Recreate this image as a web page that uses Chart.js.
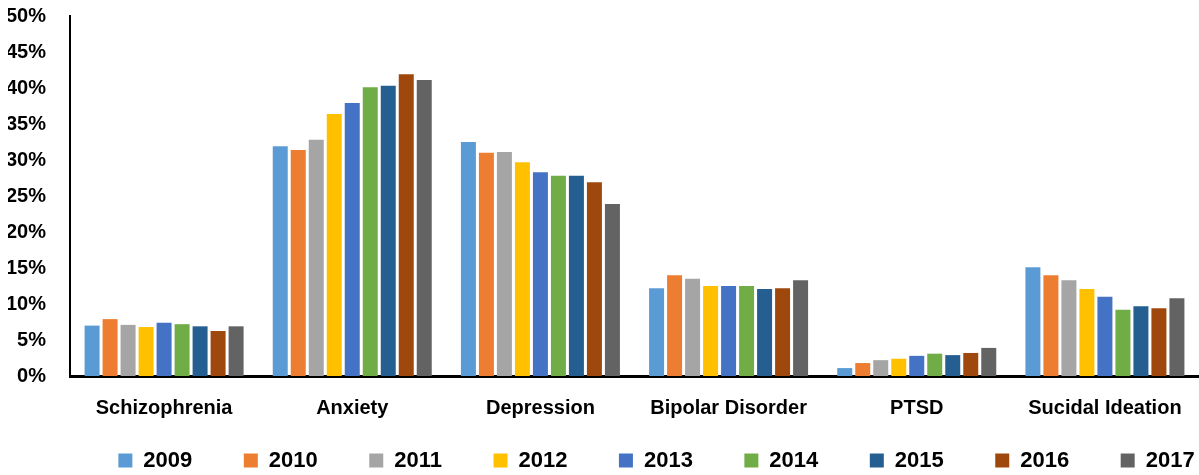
<!DOCTYPE html>
<html>
<head>
<meta charset="utf-8">
<script src="https://cdn.jsdelivr.net/npm/chart.js@4"></script>
<style>
  html, body { margin: 0; padding: 0; background: #fff; }
  #wrap { width: 1199px; height: 475px; position: relative; }
</style>
</head>
<body>
<div id="wrap"><canvas id="barChart"></canvas></div>
<script>
// Categorias y valores (en %)
var categories = ['Schizophrenia', 'Anxiety', 'Depression', 'Bipolar Disorder', 'PTSD', 'Sucidal Ideation'];
var years = ['2009', '2010', '2011', '2012', '2013', '2014', '2015', '2016', '2017'];
var yearColors = ['#5B9BD5', '#ED7D31', '#A5A5A5', '#FFC000', '#4472C4', '#70AD47', '#255E91', '#9E480E', '#636363'];

var v2009 = [7.0, 31.9, 32.5, 12.2, 1.1, 15.1];
var v2010 = [7.9, 31.4, 31.0, 14.0, 1.8, 14.0];
var v2011 = [7.1, 32.8, 31.1, 13.5, 2.2, 13.3];
var v2012 = [6.8, 36.4, 29.7, 12.5, 2.4, 12.1];
var v2013 = [7.4, 37.9, 28.3, 12.5, 2.8, 11.0];
var v2014 = [7.2, 40.1, 27.8, 12.5, 3.1, 9.2];
var v2015 = [6.9, 40.3, 27.8, 12.1, 2.9, 9.7];
var v2016 = [6.25, 41.9, 26.9, 12.2, 3.2, 9.4];
var v2017 = [6.9, 41.1, 23.9, 13.3, 3.9, 10.8];
var seriesValues = [v2009, v2010, v2011, v2012, v2013, v2014, v2015, v2016, v2017];

var yTicks = [0, 5, 10, 15, 20, 25, 30, 35, 40, 45, 50];

var boldFont = { family: 'Liberation Sans', weight: 'bold', size: 20 };

var datasets = years.map(function (y, i) {
    return {
        label: y,
        data: seriesValues[i],
        backgroundColor: yearColors[i],
        borderWidth: 0,
        barPercentage: 0.833,
        categoryPercentage: 0.861
    };
});

// Mueve la leyenda a su sitio (el padding grande de la leyenda la deja muy abajo)
var legendShift = {
    id: 'legendShift',
    afterLayout: function (chart) {
        var lg = chart.legend;
        lg.left += 53;
        lg.right += 53;
        lg.top -= 22;
    }
};

var ctx = document.getElementById('barChart').getContext('2d');
var myChart = new Chart(ctx, {
    type: 'bar',
    data: { labels: categories, datasets: datasets },
    plugins: [legendShift],
    options: {
        responsive: true,
        maintainAspectRatio: false,
        animation: false,
        layout: { padding: { left: 8, right: 0, top: 16, bottom: 0 } },
        scales: {
            x: {
                grid: { display: false, drawTicks: false },
                border: { display: true, color: '#000', width: 3 },
                ticks: { color: '#000', font: boldFont, padding: 20, maxRotation: 0, autoSkip: false },
                afterFit: function (axis) {
                    axis.paddingLeft = 0;
                    axis.paddingRight = 0;
                    axis.height = 44;
                }
            },
            y: {
                min: 0,
                max: 50,
                afterBuildTicks: function (axis) {
                    axis.ticks = yTicks.map(function (v) { return { value: v }; });
                },
                afterFit: function (axis) {
                    axis.paddingTop = 0;
                    axis.paddingBottom = 0;
                    axis.width = 62;
                },
                grid: { display: false, drawTicks: false },
                border: { display: true, color: '#000', width: 2 },
                ticks: {
                    color: '#000',
                    font: boldFont,
                    padding: 24,
                    autoSkip: false,
                    callback: function (v) { return v + '%'; }
                }
            }
        },
        plugins: {
            legend: {
                position: 'bottom',
                maxHeight: 55,
                labels: {
                    color: '#000',
                    font: { family: 'Liberation Sans', weight: 'bold', size: 22 },
                    boxWidth: 14,
                    boxHeight: 14,
                    padding: 51.5
                }
            },
            tooltip: { enabled: false }
        }
    }
});
</script>
</body>
</html>
